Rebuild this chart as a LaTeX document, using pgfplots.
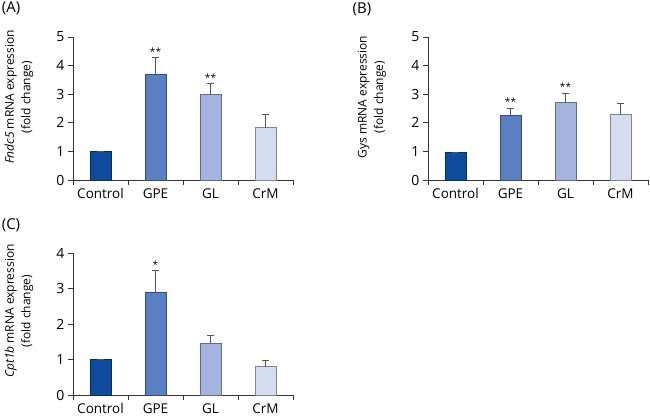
\documentclass[border=0pt]{standalone}
\usepackage{fontspec}
\setmainfont{Open Sans}
\usepackage{pgfplots}
\pgfplotsset{compat=1.18}
\definecolor{cCtrl}{HTML}{0E4C9E}
\definecolor{cGPE}{HTML}{5B7FC3}
\definecolor{cGL}{HTML}{A5B4DE}
\definecolor{cCrM}{HTML}{D5DCEF}
\definecolor{errc}{HTML}{555555}
\pgfplotsset{
  panel/.style={
    scale only axis, width=220pt,
    axis x line*=bottom, axis y line*=left,
    axis line style={black!80, line width=0.8pt},
    xmin=-0.5, xmax=3.5, ymin=0,
    xtick={0,1,2,3}, xticklabels={Control,GPE,GL,CrM},
    minor xtick={-0.5,0.5,1.5,2.5,3.5},
    every major x tick/.append style={draw=none},
    every minor x tick/.append style={black!80, line width=0.8pt},
    tick align=outside,
    major tick length=5pt, minor tick length=5pt,
    every y tick/.append style={black!80, line width=0.8pt},
    /pgf/number format/assume math mode=true,
    yticklabel style={font=\fontsize{14}{15}\selectfont},
    xticklabel style={font=\fontsize{13.5}{15}\selectfont},
    clip=false,
  },
  pbar/.style={ybar, bar shift=0pt, bar width=21pt, fill=#1, draw=#1!60!black, line width=0.6pt,
    error bars/.cd, y dir=plus, y explicit,
    error bar style={errc, line width=1.1pt},
    error mark options={errc, mark size=3.5pt, line width=1.1pt, rotate=90}},
}
\begin{document}
\begin{tikzpicture}
\useasboundingbox (0,0) rectangle (650pt,416pt);
% (A)
\node[font=\fontsize{15}{16}\selectfont] at (11pt,408pt) {(A)};
\node[rotate=90, align=center, font=\fontsize{12}{16.5}\selectfont] at (19pt,319pt) {\textit{Fndc5} mRNA expression\\(fold change)};
\begin{axis}[panel, at={(73pt,236pt)}, anchor=south west, height=143pt, ymax=5, ytick={0,1,2,3,4,5}]
\addplot[pbar=cCtrl] coordinates {(0,1.0) +- (0,0)};
\addplot[pbar=cGPE] coordinates {(1,3.70) +- (0,0.58)};
\addplot[pbar=cGL] coordinates {(2,2.98) +- (0,0.39)};
\addplot[pbar=cCrM] coordinates {(3,1.83) +- (0,0.47)};
\node[font=\fontsize{10}{10}\selectfont] at (axis cs:1,4.5) {**};
\node[font=\fontsize{10}{10}\selectfont] at (axis cs:2,3.58) {**};
\end{axis}
% (B)
\node[font=\fontsize{15}{16}\selectfont] at (362pt,407pt) {(B)};
\node[rotate=90, align=center, font=\fontsize{12}{16.5}\selectfont] at (372pt,319pt) {Gys mRNA expression\\(fold change)};
\begin{axis}[panel, at={(428pt,236pt)}, anchor=south west, height=143pt, ymax=5, ytick={0,1,2,3,4,5}]
\addplot[pbar=cCtrl] coordinates {(0,0.97) +- (0,0)};
\addplot[pbar=cGPE] coordinates {(1,2.26) +- (0,0.25)};
\addplot[pbar=cGL] coordinates {(2,2.70) +- (0,0.32)};
\addplot[pbar=cCrM] coordinates {(3,2.29) +- (0,0.38)};
\node[font=\fontsize{10}{10}\selectfont] at (axis cs:1,2.75) {**};
\node[font=\fontsize{10}{10}\selectfont] at (axis cs:2,3.27) {**};
\end{axis}
% (C)
\node[font=\fontsize{15}{16}\selectfont] at (11pt,191pt) {(C)};
\node[rotate=90, align=center, font=\fontsize{12}{16.5}\selectfont] at (19pt,105pt) {\textit{Cpt1b} mRNA expression\\(fold change)};
\begin{axis}[panel, at={(73pt,21pt)}, anchor=south west, height=142pt, ymax=4, ytick={0,1,2,3,4}]
\addplot[pbar=cCtrl] coordinates {(0,1.0) +- (0,0)};
\addplot[pbar=cGPE] coordinates {(1,2.88) +- (0,0.62)};
\addplot[pbar=cGL] coordinates {(2,1.46) +- (0,0.21)};
\addplot[pbar=cCrM] coordinates {(3,0.80) +- (0,0.18)};
\node[font=\fontsize{10}{10}\selectfont] at (axis cs:1,3.68) {*};
\end{axis}
\end{tikzpicture}
\end{document}
